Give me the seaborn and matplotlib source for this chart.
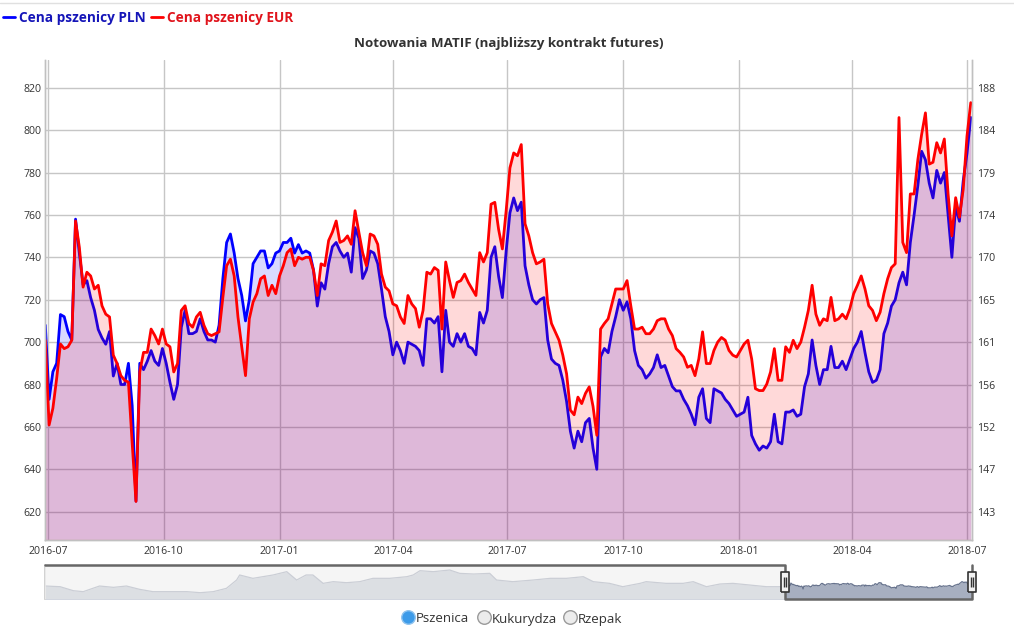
import pandas as pd
import matplotlib
matplotlib.use("Agg")
import matplotlib.pyplot as plt
import matplotlib.dates as mdates
import matplotlib.ticker as mticker
from matplotlib.path import Path
import seaborn as sns

sns.set_theme(style="white")
plt.rcParams["font.family"] = ["Open Sans", "DejaVu Sans"]

# MATIF wheat, nearest futures contract - one reading every 3 days from 2016-06-29
first_day = "2016-06-29"
pln = [708, 673, 686, 690, 713, 712, 705, 701, 758, 742,
       727, 729, 721, 715, 706, 702, 699, 705, 684, 690,
       680, 680, 690, 670, 625, 690, 687, 691, 696, 691,
       689, 697, 690, 681, 673, 680, 707, 715, 704, 704,
       705, 711, 705, 701, 701, 700, 708, 730, 747, 751,
       742, 730, 722, 710, 720, 737, 740, 743, 743, 735,
       737, 742, 743, 747, 747, 749, 742, 746, 742, 743,
       742, 734, 717, 728, 725, 737, 745, 747, 743, 740,
       742, 733, 754, 749, 730, 734, 743, 742, 737, 725,
       712, 705, 694, 700, 696, 690, 700, 699, 698, 696,
       689, 711, 711, 709, 712, 686, 715, 700, 698, 704,
       700, 704, 698, 697, 694, 714, 709, 715, 740, 745,
       731, 721, 743, 761, 768, 762, 766, 736, 727, 720,
       718, 720, 721, 701, 692, 690, 689, 682, 672, 658,
       650, 658, 653, 662, 664, 650, 640, 693, 697, 695,
       705, 712, 720, 715, 719, 711, 696, 689, 687, 683,
       685, 688, 694, 688, 689, 684, 679, 677, 677, 673,
       670, 666, 661, 674, 678, 664, 662, 678, 677, 676,
       673, 671, 668, 665, 666, 667, 674, 656, 652, 649,
       651, 650, 653, 666, 653, 652, 667, 667, 668, 665,
       666, 679, 685, 701, 689, 680, 687, 687, 698, 688,
       688, 691, 687, 692, 697, 700, 705, 695, 686, 681,
       682, 687, 704, 709, 717, 720, 728, 733, 727, 747,
       760, 774, 790, 786, 775, 768, 781, 775, 780, 760,
       740, 764, 757, 776, 789, 806]
eur = [161.0, 151.9, 153.7, 156.9, 160.6, 160.1, 160.3, 161.0, 173.8, 171.0,
       166.7, 168.3, 167.9, 166.5, 166.9, 164.7, 163.8, 163.5, 159.4, 158.5,
       157.2, 156.7, 156.5, 149.9, 143.7, 157.6, 159.7, 159.7, 162.2, 161.5,
       160.6, 162.2, 160.6, 160.3, 157.6, 158.5, 164.2, 164.7, 162.8, 162.4,
       163.5, 164.0, 162.6, 161.7, 161.5, 161.7, 161.9, 165.6, 169.0, 169.7,
       167.9, 163.5, 160.3, 157.2, 163.3, 165.1, 166.0, 167.6, 167.9, 165.8,
       166.9, 166.0, 167.9, 169.0, 170.4, 170.8, 169.0, 169.9, 169.7, 169.9,
       169.9, 168.5, 165.8, 169.2, 169.0, 171.7, 172.6, 173.8, 171.5, 171.7,
       172.2, 171.3, 174.9, 172.6, 170.4, 169.0, 172.4, 172.2, 171.3, 168.1,
       166.7, 166.3, 164.9, 164.7, 163.5, 162.8, 165.8, 164.9, 164.4, 162.4,
       164.2, 168.3, 168.1, 168.8, 168.5, 162.2, 169.4, 167.4, 165.6, 167.2,
       167.4, 168.1, 167.2, 166.5, 165.8, 170.4, 169.4, 170.4, 175.6, 175.8,
       172.9, 170.8, 174.9, 179.5, 181.1, 180.8, 182.0, 173.5, 172.2, 170.4,
       169.2, 169.4, 169.7, 164.9, 162.8, 161.9, 161.0, 159.4, 157.4, 153.5,
       153.0, 154.9, 154.2, 155.3, 156.0, 153.9, 150.8, 162.2, 162.8, 163.3,
       164.9, 166.5, 166.5, 166.5, 167.4, 164.7, 162.2, 162.2, 162.4, 161.7,
       161.7, 162.2, 163.1, 163.3, 163.3, 162.2, 161.5, 160.1, 159.7, 159.2,
       158.1, 158.3, 157.2, 159.0, 161.9, 158.5, 158.5, 159.9, 160.8, 161.3,
       161.0, 159.9, 159.4, 159.2, 159.9, 160.6, 161.0, 159.0, 155.8, 155.6,
       155.6, 156.3, 157.6, 160.1, 156.7, 156.7, 160.3, 159.7, 161.0, 160.1,
       160.8, 162.4, 164.2, 166.9, 163.8, 162.6, 163.3, 163.1, 165.6, 163.1,
       163.3, 163.8, 163.3, 164.4, 166.0, 166.9, 167.9, 166.5, 164.7, 164.2,
       163.1, 164.0, 166.0, 167.6, 168.8, 169.2, 184.9, 171.5, 170.4, 176.7,
       176.7, 180.4, 183.1, 185.4, 179.9, 180.1, 182.2, 181.1, 182.6, 176.7,
       172.2, 176.3, 174.2, 177.2, 182.9, 186.5]
dates = pd.date_range(first_day, periods=len(pln), freq="3D")

# older PLN history, only visible in the navigator strip
hist_dates = ["2008-07-14", "2008-09-10", "2008-11-01", "2008-12-10", "2009-02-12",
              "2009-04-08", "2009-05-29", "2009-07-20", "2009-09-10", "2009-11-29",
              "2010-01-22", "2010-03-15", "2010-05-05", "2010-06-26", "2010-08-05",
              "2010-08-17", "2010-10-08", "2010-12-26", "2011-02-18", "2011-03-29",
              "2011-05-05", "2011-06-01", "2011-07-11", "2011-08-20", "2011-10-11",
              "2011-12-02", "2012-01-23", "2012-03-29", "2012-06-04", "2012-06-29",
              "2012-07-26", "2012-09-16", "2012-11-20", "2012-12-29", "2013-02-22",
              "2013-04-26", "2013-05-23", "2013-07-26", "2013-10-14", "2013-12-20",
              "2014-02-22", "2014-04-29", "2014-06-07", "2014-08-10", "2014-10-01",
              "2014-12-08", "2015-01-01", "2015-03-20", "2015-05-26", "2015-07-05",
              "2015-08-26", "2015-10-18", "2015-12-08", "2016-02-12", "2016-04-18",
              "2016-06-09"]
hist_pln = [692, 677, 587, 565, 692, 662, 692, 617, 565, 565,
            565, 542, 565, 640, 827, 940, 865, 940, 1015, 827,
            940, 940, 752, 790, 767, 790, 865, 865, 902, 940,
            1037, 1015, 1052, 977, 962, 977, 827, 790, 827, 865,
            865, 902, 790, 752, 677, 752, 790, 752, 752, 790,
            677, 737, 752, 715, 677, 677]

x_ticks = pd.date_range("2016-07-01", "2018-07-01", freq="3MS")
pln_ticks = list(range(620, 821, 20))
markets = ["Pszenica", "Kukurydza", "Rzepak"]
title = "Notowania MATIF (najbliższy kontrakt futures)"

# right axis follows the left one: 620 PLN <-> 142.6 EUR, every 20 PLN <-> 4.55 EUR
def to_eur(v):
    return 142.6 + 4.55 / 20 * (v - 620)

pln_lim = (606.65, 833.07)
x_lim = (pd.Timestamp("2016-06-29"), pd.Timestamp("2018-07-05"))
nav_lim = (pd.Timestamp("2008-07-14"), x_lim[1])
nav_ylim = (400, 1165)

df = pd.DataFrame({"data": dates, "pln": pln, "eur": eur})

fig = plt.figure(figsize=(10.14, 6.33), dpi=100)

# page furniture (title, radio buttons) in pixel space
ui = fig.add_axes([0, 0, 1, 1])
ui.set_xlim(0, 1014)
ui.set_ylim(633, 0)
ui.axis("off")
ui.axhline(2.5, color="#e0e0e0", lw=1)
ui.text(509, 44, title, ha="center", va="center", fontsize=9.6,
        weight="bold", color="#333333")
radio_x = [408, 483.5, 570]
for k, (name, cx) in enumerate(zip(markets, radio_x)):
    picked = k == 0
    ui.scatter([cx], [617], s=95, color="#3d9be9" if picked else "#ececec",
               edgecolors="#8fc3ee" if picked else "#9a9a9a", linewidths=1.0, zorder=3)
    ui.text(cx + 8, 619, name, ha="left", va="center", fontsize=9.5, color="#333333")

# main chart
ax = fig.add_axes([0.0447, 0.1469, 0.9139, 0.7583])
ax2 = ax.twinx()

ax.fill_between(df["data"], df["pln"], pln_lim[0], color="blue", alpha=0.15, lw=0)
sns.lineplot(data=df, x="data", y="pln", ax=ax, color="#0000ff", lw=2.0,
             solid_joinstyle="round")
ax2.fill_between(df["data"], df["eur"], to_eur(pln_lim[0]), color="red", alpha=0.15, lw=0)
sns.lineplot(data=df, x="data", y="eur", ax=ax2, color="#ff0000", lw=2.0,
             solid_joinstyle="round")

ax.set_xlim(*x_lim)
ax.set_ylim(*pln_lim)
ax2.set_ylim(to_eur(pln_lim[0]), to_eur(pln_lim[1]))
ax.set_xticks(x_ticks)
ax.xaxis.set_major_formatter(mdates.DateFormatter("%Y-%m"))
ax.set_yticks(pln_ticks)
ax2.set_yticks([to_eur(v) for v in pln_ticks])
ax2.yaxis.set_major_formatter(mticker.FormatStrFormatter("%.0f"))

ax.grid(True, color="#c6c6c6", lw=1)
ax.set_axisbelow(True)
ax2.grid(False)
for a in (ax, ax2):
    a.set_xlabel("")
    a.set_ylabel("")
    a.spines["top"].set_visible(False)
    for s in ("left", "right", "bottom"):
        a.spines[s].set_color("#c0c0c0")
        a.spines[s].set_linewidth(1)
ax.tick_params(axis="both", labelsize=7.6, colors="#333333", length=0)
ax.tick_params(axis="y", pad=3)
ax.tick_params(axis="x", pad=4)
ax2.tick_params(axis="y", labelsize=7.6, colors="#333333", length=0, pad=3.5)

fig.legend(handles=[ax.lines[0], ax2.lines[0]],
           labels=["Cena pszenicy PLN", "Cena pszenicy EUR"],
           loc="upper left", bbox_to_anchor=(-0.004, 0.993), ncol=2, frameon=False,
           handlelength=0.9, handletextpad=0.3, columnspacing=0.35,
           borderpad=0.2, borderaxespad=0.3,
           prop={"weight": "bold", "size": 9.8},
           labelcolor=["#1515b8", "#e0141c"])

# navigator strip
nav = fig.add_axes([0.0447, 1 - 599 / 633, 0.9139, 34 / 633])
nav_x = list(pd.to_datetime(hist_dates)) + list(dates)
nav_y = hist_pln + pln
nav.fill_between(nav_x, nav_y, nav_ylim[0], color="#a7afc0", lw=0)
nav.plot(nav_x, nav_y, color="#67738d", lw=0.9)
nav.set_xlim(*nav_lim)
nav.set_ylim(*nav_ylim)
nav.axvspan(nav_lim[0], x_lim[0], color="#f2f2f2", alpha=0.72, lw=0, zorder=3)
nav.plot([nav_lim[0], x_lim[0], x_lim[0], x_lim[1], x_lim[1]],
         [nav_ylim[1], nav_ylim[1], nav_ylim[0], nav_ylim[0], nav_ylim[1]],
         color="#666666", lw=1.8, clip_on=False, zorder=5)
nav.set_xticks([])
nav.set_yticks([])
for s in ("top", "right", "bottom"):
    nav.spines[s].set_visible(False)
nav.spines["left"].set_color("#cccccc")

body = Path([(-4.5, -10.5), (4.5, -10.5), (4.5, 10.5), (-4.5, 10.5), (-4.5, -10.5)])
grip = Path([(0, 10.5), (-1.5, -5), (-1.5, 5), (1.5, -5), (1.5, 5)],
            [Path.MOVETO, Path.MOVETO, Path.LINETO, Path.MOVETO, Path.LINETO])
mid = sum(nav_ylim) / 2
for xh in x_lim:
    nav.plot([xh], [mid], marker=body, ms=15, mfc="#f2f2f2", mec="#333333",
             mew=1.2, clip_on=False, zorder=6)
    nav.plot([xh], [mid], marker=grip, ms=15, mfc="none", mec="#333333",
             mew=1.0, clip_on=False, zorder=7)

fig.savefig("out.png", dpi=100)
